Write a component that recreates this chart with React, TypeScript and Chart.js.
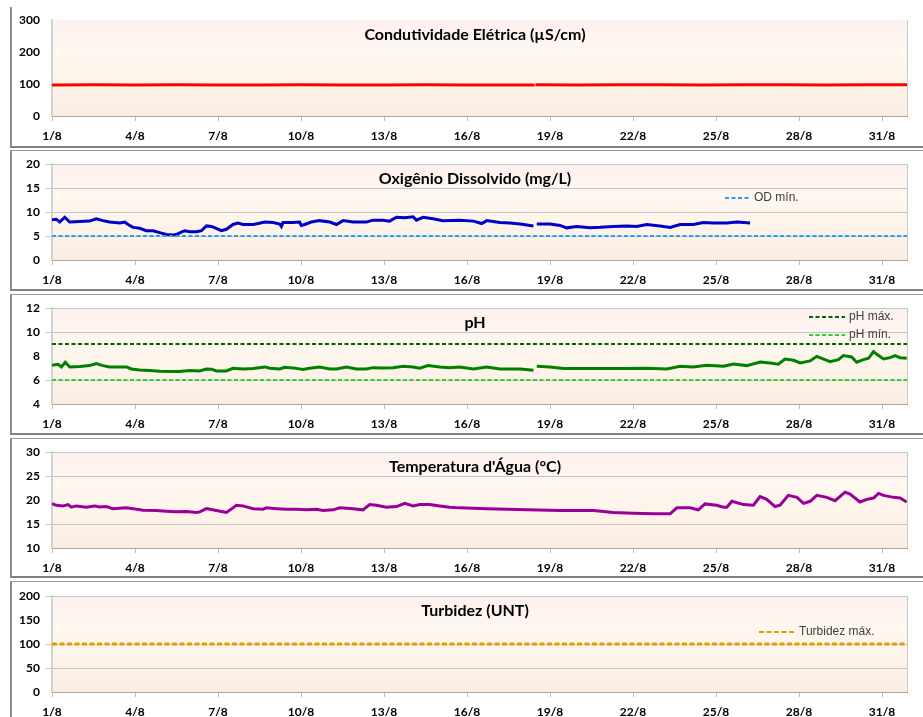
import React, { useEffect, useRef } from 'react';
import { Chart, registerables } from 'chart.js';

Chart.register(...registerables);

// ---------- data ----------
const xTickDays = [1, 4, 7, 10, 13, 16, 19, 22, 25, 28, 31];
const xMin = 1;
const xMax = 31.9;

type Pt = [number, number | null];

const condSeries: Pt[] = [
  [1.0, 97], [2.5, 97.5], [4.0, 97], [5.5, 97.5], [7.0, 97], [8.5, 97], [10.0, 97.5],
  [11.5, 97], [13.0, 97], [14.5, 97.5], [16.0, 97], [17.5, 97], [18.44, 97],
  [18.45, null],
  [18.47, 97.5], [20.0, 97], [21.5, 97.5], [23.0, 97.5], [24.5, 97], [26.0, 97.5],
  [27.5, 97.5], [29.0, 97], [30.5, 97.5], [31.9, 97.5],
];

const odSeries: Pt[] = [
  [1.0, 8.4], [1.16, 8.5], [1.28, 7.9], [1.46, 8.9], [1.64, 7.9], [2.0, 8.0], [2.36, 8.1],
  [2.6, 8.6], [2.84, 8.2], [3.08, 7.9], [3.45, 7.7], [3.63, 7.9], [3.75, 7.4], [3.93, 6.8],
  [4.17, 6.6], [4.41, 6.1], [4.65, 6.1], [4.89, 5.7], [5.13, 5.3], [5.37, 5.2], [5.49, 5.3],
  [5.67, 5.8], [5.8, 6.1], [5.98, 5.9], [6.22, 5.9], [6.4, 6.1], [6.58, 7.1], [6.76, 7.0],
  [6.94, 6.6], [7.12, 6.1], [7.3, 6.4], [7.54, 7.4], [7.72, 7.7], [7.9, 7.4], [8.27, 7.4],
  [8.45, 7.6], [8.69, 7.9], [8.99, 7.8], [9.23, 7.5], [9.29, 7.0], [9.35, 7.8], [9.71, 7.8],
  [9.95, 7.9], [10.01, 7.2], [10.13, 7.4], [10.37, 7.9], [10.67, 8.2], [11.04, 7.9],
  [11.28, 7.4], [11.52, 8.2], [11.88, 7.9], [12.36, 7.9], [12.6, 8.3], [12.96, 8.3],
  [13.2, 8.1], [13.45, 8.9], [13.75, 8.8], [14.05, 9.0], [14.17, 8.3], [14.41, 8.9],
  [14.77, 8.6], [15.13, 8.2], [15.73, 8.3], [16.23, 8.1], [16.53, 7.6], [16.71, 8.2],
  [17.19, 7.8], [17.55, 7.7], [17.92, 7.5], [18.4, 7.1],
  [18.45, null],
  [18.52, 7.5], [19.0, 7.5], [19.36, 7.2], [19.6, 6.7], [19.96, 7.0], [20.45, 6.7],
  [20.81, 6.8], [21.29, 7.0], [21.77, 7.1], [22.13, 7.0], [22.49, 7.4], [22.98, 7.1],
  [23.34, 6.8], [23.7, 7.4], [24.18, 7.4], [24.54, 7.8], [24.9, 7.7], [25.39, 7.7],
  [25.75, 7.9], [26.23, 7.7],
];

const phSeries: Pt[] = [
  [1.0, 7.23], [1.22, 7.31], [1.34, 7.09], [1.48, 7.48], [1.64, 7.09], [2.0, 7.12],
  [2.36, 7.2], [2.6, 7.37], [2.84, 7.2], [3.08, 7.09], [3.45, 7.09], [3.69, 7.09],
  [3.87, 6.92], [4.17, 6.84], [4.53, 6.79], [4.89, 6.73], [5.25, 6.7], [5.61, 6.7],
  [5.98, 6.79], [6.34, 6.76], [6.58, 6.92], [6.76, 6.9], [6.94, 6.76], [7.3, 6.76],
  [7.54, 6.98], [7.9, 6.92], [8.27, 6.95], [8.69, 7.09], [8.87, 6.98], [9.23, 6.92],
  [9.41, 7.06], [9.71, 7.01], [10.07, 6.87], [10.31, 6.98], [10.67, 7.09], [11.04, 6.92],
  [11.28, 6.92], [11.64, 7.09], [12.0, 6.92], [12.36, 6.92], [12.6, 7.03], [12.96, 7.01],
  [13.33, 7.03], [13.69, 7.14], [14.05, 7.09], [14.29, 6.98], [14.59, 7.2], [15.01, 7.09],
  [15.37, 7.03], [15.73, 7.09], [16.23, 6.92], [16.71, 7.09], [17.19, 6.92], [17.92, 6.92],
  [18.4, 6.81],
  [18.45, null],
  [18.52, 7.14], [19.0, 7.09], [19.48, 6.95], [20.57, 6.95], [21.77, 6.95], [22.49, 6.98],
  [23.22, 6.92], [23.7, 7.14], [24.18, 7.09], [24.66, 7.23], [25.27, 7.14], [25.63, 7.34],
  [26.11, 7.2], [26.59, 7.5], [26.95, 7.42], [27.25, 7.31], [27.49, 7.75], [27.8, 7.64],
  [28.04, 7.42], [28.4, 7.59], [28.64, 7.97], [28.82, 7.81], [29.12, 7.53], [29.42, 7.7],
  [29.6, 8.03], [29.9, 7.92], [30.08, 7.48], [30.33, 7.7], [30.51, 7.81], [30.69, 8.36],
  [30.81, 8.14], [31.05, 7.75], [31.29, 7.86], [31.47, 8.03], [31.65, 7.86], [31.89, 7.81],
];

const tempSeries: Pt[] = [
  [1.0, 19.25], [1.16, 18.9], [1.4, 18.77], [1.58, 19.04], [1.7, 18.5], [1.88, 18.77],
  [2.24, 18.5], [2.54, 18.77], [2.72, 18.56], [2.96, 18.63], [3.2, 18.2], [3.69, 18.36],
  [3.93, 18.2], [4.29, 17.88], [4.77, 17.8], [5.13, 17.67], [5.49, 17.53], [5.86, 17.6],
  [6.22, 17.4], [6.34, 17.53], [6.58, 18.2], [6.94, 17.8], [7.3, 17.4], [7.54, 18.36],
  [7.66, 18.9], [7.9, 18.77], [8.27, 18.2], [8.63, 18.08], [8.75, 18.36], [9.11, 18.2],
  [9.47, 18.08], [9.83, 18.08], [10.19, 17.95], [10.55, 18.08], [10.8, 17.8], [11.16, 17.95],
  [11.4, 18.36], [11.88, 18.2], [12.24, 17.95], [12.48, 19.04], [12.72, 18.9], [13.08, 18.5],
  [13.45, 18.63], [13.75, 19.3], [14.05, 18.77], [14.29, 19.04], [14.65, 19.04], [15.01, 18.77],
  [15.37, 18.5], [15.73, 18.36], [16.71, 18.2], [18.16, 17.95], [19.36, 17.8], [20.57, 17.8],
  [21.29, 17.4], [22.01, 17.26], [22.73, 17.12], [23.34, 17.12], [23.58, 18.36], [24.06, 18.36],
  [24.36, 17.95], [24.6, 19.18], [25.02, 18.9], [25.27, 18.5], [25.39, 18.5], [25.57, 19.73],
  [25.99, 19.04], [26.35, 18.9], [26.59, 20.7], [26.83, 20.14], [27.13, 18.63], [27.31, 18.9],
  [27.61, 20.96], [27.92, 20.55], [28.16, 19.3], [28.4, 19.73], [28.64, 20.96], [29.0, 20.55],
  [29.3, 19.86], [29.66, 21.64], [29.84, 21.23], [30.2, 19.59], [30.45, 20.14], [30.69, 20.41],
  [30.87, 21.37], [31.05, 20.96], [31.41, 20.55], [31.65, 20.41], [31.89, 19.59],
];

const odMin = 5;
const phMax = 9;
const phMin = 6;
const turbMax = 100;

// ---------- helpers ----------
const toXY = (s: Pt[]) => s.map(([x, y]) => ({ x, y }));
const flat = (v: number) => [{ x: xMin, y: v }, { x: xMax, y: v }];

const FONT = "Lato, 'Open Sans', sans-serif";
const LEGEND_FONT = "'Liberation Sans Narrow', 'Liberation Sans', Arial, sans-serif";

type LegendItem = { label: string; color: string; dash: number[]; x: number; len: number; y: number };
type DS = { data: { x: number; y: number | null }[]; color: string; width: number; dash?: number[] };
type PanelCfg = {
  title: string;
  yMin: number; yMax: number; yStep: number;
  gridVals: number[];
  datasets: DS[];
  legend: LegendItem[];
};

const panels: PanelCfg[] = [
  {
    title: 'Condutividade Elétrica (µS/cm)',
    yMin: 0, yMax: 300, yStep: 100, gridVals: [],
    datasets: [{ data: toXY(condSeries), color: '#ff0000', width: 3 }],
    legend: [],
  },
  {
    title: 'Oxigênio Dissolvido (mg/L)',
    yMin: 0, yMax: 20, yStep: 5, gridVals: [20, 15, 10, 5],
    datasets: [
      { data: flat(odMin), color: '#1ea0f5', width: 2, dash: [4, 2.5] },
      { data: toXY(odSeries), color: '#0000c8', width: 3 },
    ],
    legend: [{ label: 'OD mín.', color: '#1ea0f5', dash: [4, 2.5], x: 725, len: 25, y: 48 }],
  },
  {
    title: 'pH',
    yMin: 4, yMax: 12, yStep: 2, gridVals: [12, 10, 6],
    datasets: [
      { data: flat(phMax), color: '#006400', width: 2, dash: [4, 2.5] },
      { data: flat(phMin), color: '#33cc33', width: 2, dash: [4, 2.5] },
      { data: toXY(phSeries), color: '#008000', width: 3 },
    ],
    legend: [
      { label: 'pH máx.', color: '#006400', dash: [4, 2.5], x: 809, len: 36, y: 23 },
      { label: 'pH mín.', color: '#33cc33', dash: [4, 2.5], x: 809, len: 36, y: 41 },
    ],
  },
  {
    title: "Temperatura d'Água (°C)",
    yMin: 10, yMax: 30, yStep: 5, gridVals: [30, 25, 15],
    datasets: [{ data: toXY(tempSeries), color: '#990099', width: 3 }],
    legend: [],
  },
  {
    title: 'Turbidez (UNT)',
    yMin: 0, yMax: 200, yStep: 50, gridVals: [200, 100, 50],
    datasets: [{ data: flat(turbMax), color: '#d8a000', width: 3, dash: [5, 2.5] }],
    legend: [{ label: 'Turbidez máx.', color: '#d8a000', dash: [5, 2.5], x: 759, len: 36, y: 50 }],
  },
];

const W = 923;
const CANVAS_H = 141;
const canvasTops = [6, 150, 294, 438, 582];

const bgPlugin = {
  id: 'plotBg',
  beforeDraw(chart: any) {
    const { ctx, chartArea: a } = chart;
    const g = ctx.createLinearGradient(0, a.top, 0, a.bottom);
    g.addColorStop(0, '#fdf1ef');
    g.addColorStop(0.35, '#fef8f0');
    g.addColorStop(1, '#fcede0');
    ctx.save();
    ctx.fillStyle = g;
    ctx.fillRect(a.left, a.top, a.right - a.left, a.bottom - a.top);
    ctx.strokeStyle = '#c8c8c8';
    ctx.lineWidth = 1;
    ctx.beginPath();
    ctx.moveTo(a.right + 0.5, a.top);
    ctx.lineTo(a.right + 0.5, a.bottom);
    ctx.stroke();
    ctx.restore();
  },
};

function Panel({ cfg, top }: { cfg: PanelCfg; top: number }) {
  const ref = useRef<HTMLCanvasElement | null>(null);
  useEffect(() => {
    if (!ref.current) return;
    const overlay = {
      id: 'overlay',
      afterDraw(chart: any) {
        const { ctx } = chart;
        ctx.save();
        ctx.fillStyle = '#000';
        ctx.font = `bold 16px ${FONT}`;
        ctx.textAlign = 'center';
        ctx.textBaseline = 'middle';
        ctx.fillText(cfg.title, 475, 29);
        for (const it of cfg.legend) {
          ctx.strokeStyle = it.color;
          ctx.lineWidth = 2;
          ctx.setLineDash(it.dash);
          ctx.beginPath();
          ctx.moveTo(it.x, it.y);
          ctx.lineTo(it.x + it.len, it.y);
          ctx.stroke();
          ctx.setLineDash([]);
          ctx.fillStyle = '#404040';
          ctx.font = `12px ${LEGEND_FONT}`;
          ctx.textAlign = 'left';
          ctx.fillText(it.label, it.x + it.len + 4, it.y);
        }
        ctx.restore();
      },
    };
    const gridColor = (c: any) =>
      cfg.gridVals.includes(c.tick?.value) ? '#c4c4c4' : 'rgba(0,0,0,0)';
    const chart = new Chart(ref.current, {
      type: 'line',
      data: {
        datasets: cfg.datasets.map((d) => ({
          data: d.data as any,
          borderColor: d.color,
          backgroundColor: d.color,
          borderWidth: d.width,
          borderDash: d.dash || [],
          pointRadius: 0,
          tension: 0,
          fill: false,
          spanGaps: false,
        })),
      },
      options: {
        animation: false,
        responsive: false,
        devicePixelRatio: 1,
        parsing: false as any,
        normalized: true,
        layout: { padding: { top: 14, right: 16, left: 0, bottom: 0 } },
        plugins: { legend: { display: false }, tooltip: { enabled: false }, title: { display: false } },
        scales: {
          x: {
            type: 'linear',
            min: xMin,
            max: xMax,
            afterBuildTicks: (s: any) => {
              s.ticks = xTickDays.map((v) => ({ value: v }));
            },
            afterFit: (s: any) => {
              s.height = 31;
            },
            ticks: {
              autoSkip: false,
              maxRotation: 0,
              padding: 8,
              color: '#000',
              font: { family: FONT, size: 12, weight: 'bold' },
              callback: (v: any) => `${v}/8`,
            },
            grid: { drawOnChartArea: false, tickLength: 5, tickColor: '#bdbdbd' },
            border: { color: '#a6a6a6', width: 1 },
          },
          y: {
            min: cfg.yMin,
            max: cfg.yMax,
            afterFit: (s: any) => {
              s.width = 52;
            },
            ticks: {
              stepSize: cfg.yStep,
              padding: 6,
              color: '#000',
              font: { family: FONT, size: 12, weight: 'bold' },
            },
            grid: { color: gridColor, tickColor: gridColor, tickLength: 6, lineWidth: 1 },
            border: { color: '#d2d2d2', width: 2 },
          },
        },
      } as any,
      plugins: [bgPlugin, overlay],
    });
    return () => chart.destroy();
  }, [cfg]);
  return (
    <canvas
      ref={ref}
      width={W}
      height={CANVAS_H}
      style={{ position: 'absolute', left: 0, top, width: W, height: CANVAS_H, display: 'block' }}
    />
  );
}

export default function App() {
  const boxes = [
    { top: 7, height: 141, first: true },
    { top: 150, height: 141 },
    { top: 294, height: 141 },
    { top: 438, height: 140 },
    { top: 581, height: 141 },
  ];
  return (
    <div
      style={{
        position: 'fixed',
        left: 0,
        top: 0,
        width: W,
        height: 717,
        overflow: 'hidden',
        background: '#fff',
      }}
    >
      {boxes.map((b, i) => (
        <div
          key={'b' + i}
          style={{
            position: 'absolute',
            left: 10,
            top: b.top,
            width: 1000,
            height: b.height,
            boxSizing: 'border-box',
            borderLeft: '2px solid #8c8c8c',
            borderTop: (b as any).first ? 'none' : '1.5px solid #9a9a9a',
            borderBottom: '2px solid #808080',
          }}
        />
      ))}
      {panels.map((p, i) => (
        <Panel key={i} cfg={p} top={canvasTops[i]} />
      ))}
    </div>
  );
}
